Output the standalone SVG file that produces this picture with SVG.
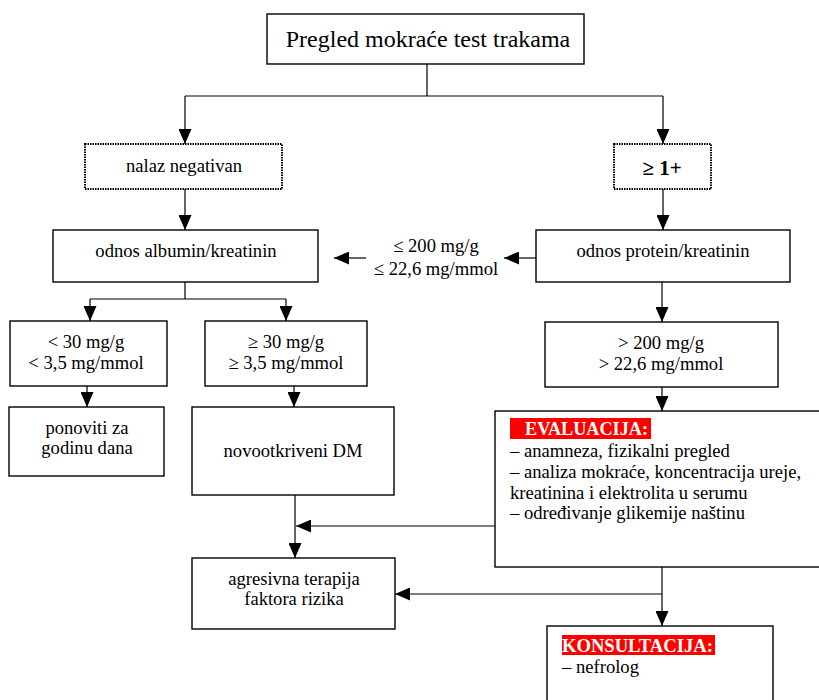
<svg xmlns="http://www.w3.org/2000/svg" width="819" height="700" viewBox="0 0 819 700">
<defs>
<marker id="ah" markerUnits="userSpaceOnUse" markerWidth="15" markerHeight="13" refX="15" refY="6.5" orient="auto">
<path d="M0,0 L15,6.5 L0,13 z" fill="#000"/>
</marker>
<style>
.box{fill:#fff;stroke:#000;stroke-width:1.4}
.dot{fill:#fff;stroke:#000;stroke-width:2;stroke-dasharray:1.5 1}
.c{text-anchor:middle}
.ln{fill:none;stroke:#000;stroke-width:1.2}
.ar{fill:none;stroke:#000;stroke-width:1.2;marker-end:url(#ah)}
.hl{fill:#ff0000}
</style>
</defs>
<rect width="819" height="700" fill="#fff"/>
<g id="connectors">
<path class="ln" d="M427,64 V96 M185,96 H663"/>
<path class="ar" d="M185,96 V144"/>
<path class="ar" d="M663,96 V144"/>
<path class="ar" d="M185,189 V230"/>
<path class="ar" d="M663,189 V230"/>
<path class="ar" d="M536,258 H504"/>
<path class="ar" d="M366,258 H334"/>
<path class="ln" d="M185,282 V299 M90,299 H286"/>
<path class="ar" d="M90,299 V321"/>
<path class="ar" d="M286,299 V321"/>
<path class="ar" d="M662,282 V322"/>
<path class="ar" d="M87,386 V407"/>
<path class="ar" d="M294,386 V407"/>
<path class="ar" d="M662,387 V411"/>
<path class="ar" d="M295,495 V558"/>
<path class="ar" d="M495,526 H296"/>
<path class="ar" d="M662,567 V626"/>
<path class="ar" d="M662,594 H395"/>
</g>
<g font-family="Liberation Serif, Times New Roman, serif" font-size="18.6" fill="#000">
<g id="n-top">
<rect class="box" x="267" y="14" width="317" height="50"/>
<text class="c" x="428" y="47" font-size="24">Pregled mokraće test trakama</text>
</g>
<g id="n-neg">
<rect class="dot" x="85" y="144" width="197" height="45"/>
<text class="c" x="184" y="172">nalaz negativan</text>
</g>
<g id="n-pos">
<rect class="dot" x="614" y="144" width="97" height="45"/>
<text class="c" x="662" y="175" font-size="21" font-weight="bold">≥ 1+</text>
</g>
<g id="n-alb">
<rect class="box" x="53" y="230" width="265" height="52"/>
<text class="c" x="186" y="257">odnos albumin/kreatinin</text>
</g>
<g id="n-prot">
<rect class="box" x="536" y="230" width="254" height="52"/>
<text class="c" x="663" y="257">odnos protein/kreatinin</text>
</g>
<g id="n-lbl">
<text class="c" x="436" y="252">≤ 200 mg/g</text>
<text class="c" x="436" y="275">≤ 22,6 mg/mmol</text>
</g>
<g id="n-lt30">
<rect class="box" x="10" y="321" width="157" height="65"/>
<text class="c" x="86" y="348">&lt; 30 mg/g</text>
<text class="c" x="86" y="369">&lt; 3,5 mg/mmol</text>
</g>
<g id="n-ge30">
<rect class="box" x="205" y="321" width="162" height="65"/>
<text class="c" x="286" y="348">≥ 30 mg/g</text>
<text class="c" x="286" y="369">≥ 3,5 mg/mmol</text>
</g>
<g id="n-gt200">
<rect class="box" x="545" y="322" width="233" height="65"/>
<text class="c" x="661" y="349">&gt; 200 mg/g</text>
<text class="c" x="661" y="370">&gt; 22,6 mg/mmol</text>
</g>
<g id="n-pon">
<rect class="box" x="9" y="407" width="155" height="69"/>
<text class="c" x="87" y="434">ponoviti za</text>
<text class="c" x="87" y="454">godinu dana</text>
</g>
<g id="n-dm">
<rect class="box" x="192" y="407" width="202" height="88"/>
<text class="c" x="293" y="457">novootkriveni DM</text>
</g>
<g id="n-eval">
<rect class="box" x="495" y="411" width="340" height="156"/>
<rect class="hl" x="510" y="418" width="141" height="21"/>
<text x="525" y="435" font-size="18.2" font-weight="bold" fill="#fff">EVALUACIJA:</text>
<text x="510" y="457">– anamneza, fizikalni pregled</text>
<text x="510" y="478">– analiza mokraće, koncentracija ureje,</text>
<text x="510" y="499">kreatinina i elektrolita u serumu</text>
<text x="510" y="519">– određivanje glikemije naštinu</text>
</g>
<g id="n-agr">
<rect class="box" x="192" y="558" width="203" height="71"/>
<text class="c" x="294" y="585">agresivna terapija</text>
<text class="c" x="294" y="605">faktora rizika</text>
</g>
<g id="n-kons">
<rect class="box" x="547" y="626" width="226" height="100"/>
<rect class="hl" x="562" y="635" width="153" height="20"/>
<text x="562" y="652" font-size="18.6" font-weight="bold" fill="#fff">KONSULTACIJA:</text>
<text x="562" y="673">– nefrolog</text>
</g>
</g>
</svg>
